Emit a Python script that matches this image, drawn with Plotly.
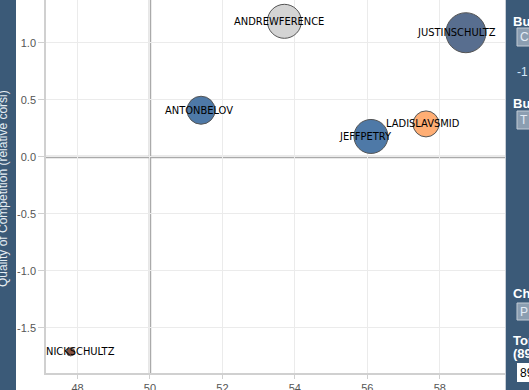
import plotly.graph_objects as go

# ---- data ----
players = ["ANDREWFERENCE", "JUSTINSCHULTZ", "ANTONBELOV", "JEFFPETRY", "LADISLAVSMID", "NICKSCHULTZ"]
x_values = [53.71, 58.72, 51.41, 56.10, 57.62, 47.81]
y_values = [1.19, 1.09, 0.41, 0.18, 0.29, -1.71]
bubble_values = [34, 40, 28, 34, 26, 8]
bubble_colors = ["#d4d4d4", "#586e8f", "#4e79a7", "#4e79a7", "#ffae74", "#8a5543"]
x_ticks = [48, 50, 52, 54, 56, 58]
y_ticks = [-1.5, -1.0, -0.5, 0.0, 0.5, 1.0]
y_title = "Quality of Competition (relative corsi)"

# label nudges in pixels (style only)
label_shift = [-5, -9, -2, -5, -3, 10]

W, H = 529, 390
L, R, T, B = 46, 24, 0, 17
pw, ph = W - L - R, H - T - B

def px(x):
    return (x - L) / pw

def py(y):
    return (H - B - y) / ph

fig = go.Figure()
fig.add_trace(go.Scatter(
    x=x_values, y=y_values, mode="markers", text=players,
    marker=dict(size=bubble_values, sizemode="diameter", color=bubble_colors,
                opacity=1, line=dict(color="#555", width=1)),
    hoverinfo="text", showlegend=False,
))

panel = "#3b5a78"
shapes = [
    dict(type="line", xref="x", yref="paper", x0=50, x1=50, y0=0, y1=1,
         line=dict(color="#aaaaaa", width=2.5), layer="below"),
    dict(type="line", xref="paper", yref="y", x0=0, x1=1, y0=0, y1=0,
         line=dict(color="#aaaaaa", width=2.5), layer="below"),
    dict(type="rect", xref="paper", yref="paper", x0=px(-2), x1=px(16), y0=py(H + 2), y1=py(-2),
         fillcolor=panel, line=dict(width=0)),
    dict(type="rect", xref="paper", yref="paper", x0=px(506), x1=px(W + 2), y0=py(H + 2), y1=py(-2),
         fillcolor=panel, line=dict(width=0)),
    dict(type="line", xref="paper", yref="paper", x0=px(505.5), x1=px(505.5), y0=py(H + 2), y1=py(-2),
         line=dict(color="#c8ced6", width=1)),
]
for (y0, y1) in [(28, 46), (111, 129), (303, 320)]:
    shapes.append(dict(type="rect", xref="paper", yref="paper", x0=px(517), x1=px(W + 5),
                       y0=py(y1), y1=py(y0), fillcolor="#8b9eb1",
                       line=dict(color="#c3ccd6", width=1)))
shapes.append(dict(type="rect", xref="paper", yref="paper", x0=px(517), x1=px(W + 5),
                   y0=py(382), y1=py(363), fillcolor="#ffffff", line=dict(width=0)))

LABEL_FONT = "DejaVu Sans Condensed"
anns = []
for name, xv, yv, sh in zip(players, x_values, y_values, label_shift):
    anns.append(dict(xref="x", yref="y", x=xv, y=yv, text=name, showarrow=False,
                     xanchor="center", yanchor="middle", xshift=sh,
                     font=dict(family=LABEL_FONT, size=11, color="#000")))

anns.append(dict(xref="paper", yref="paper", x=px(3), y=py(189), text=y_title, textangle=-90,
                 showarrow=False, font=dict(family="Liberation Sans, Arial", size=12, color="#e6edf3"),
                 xanchor="center", yanchor="middle"))

def label(x, y, text, size=13, color="#ffffff", bold=False):
    t = f"<b>{text}</b>" if bold else text
    anns.append(dict(xref="paper", yref="paper", x=px(x), y=py(y), text=t, showarrow=False,
                     xanchor="left", yanchor="middle",
                     font=dict(family="Liberation Sans, Arial", size=size, color=color)))

label(511, 21, "Bu", bold=True)
label(518, 37, "C", size=12, color="#e3ecf6")
label(515, 72, "-1", size=12, color="#d6e8f8")
label(511, 104, "Bu", bold=True)
label(518, 120, "T", size=12, color="#e3ecf6")
label(511, 293, "Ch", bold=True)
label(518, 312, "P", size=12, color="#e3ecf6")
label(511, 340, "Top", bold=True)
label(511, 353, "(89", bold=True)
label(518, 373, "89", size=12, color="#000000")

fig.update_layout(
    width=W, height=H, margin=dict(l=L, r=R, t=T, b=B, autoexpand=False),
    paper_bgcolor="#ffffff", plot_bgcolor="#ffffff",
    shapes=shapes, annotations=anns,
    font=dict(family="Liberation Sans, Arial", size=11, color="#555"),
)
axis_common = dict(showgrid=True, gridcolor="#ebebeb", zeroline=False,
                   showline=True, linecolor="#d0d0d0", linewidth=1.5,
                   ticks="outside", tickcolor="#d0d0d0", automargin=False,
                   tickfont=dict(size=11, color="#555"))
fig.update_xaxes(range=[47.13, 59.8], tickvals=x_ticks, ticktext=[str(v) for v in x_ticks],
                 ticklen=4, **axis_common)
fig.update_yaxes(range=[-1.895, 1.377], tickvals=y_ticks, ticktext=[f"{v:.1f}" for v in y_ticks],
                 ticklen=6, **axis_common)

fig.write_html("out.html", config={"displayModeBar": False},
               post_script="document.body.style.margin='0';document.body.style.overflow='hidden';")
